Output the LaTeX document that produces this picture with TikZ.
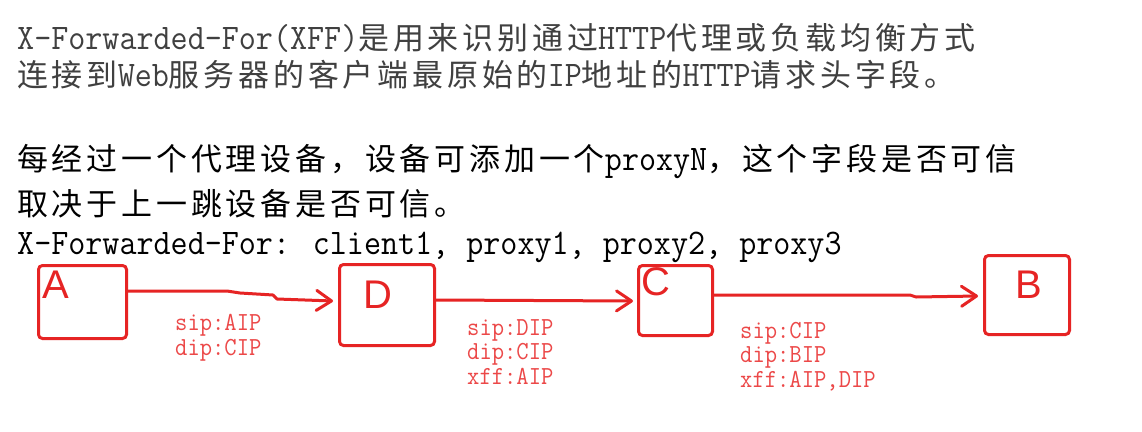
\documentclass[tikz,border=0pt]{standalone}
\usepackage{fontspec}
\setmainfont{Latin Modern Mono}[FakeStretch=0.92]
\newfontfamily\hanzi{Noto Sans CJK SC}[Scale=0.86,LetterSpace=12.4]
\newfontfamily\hand{Liberation Sans}
\usepackage{xcolor}
\usetikzlibrary{arrows.meta,calc}

\definecolor{penred}{RGB}{230,36,36}
\definecolor{notered}{RGB}{236,72,72}
\definecolor{leadgray}{RGB}{64,64,64}

\begin{document}
\begin{tikzpicture}[
  x=1pt, y=-1pt,
  >={Straight Barb[length=15pt,width=20pt,round]},
  txt/.style={anchor=base west, inner sep=0pt,
              font=\fontsize{36}{36}\selectfont},
  hop/.style={draw=penred, line width=3pt, rounded corners=4pt,
              inner sep=0pt},
  tag/.style={inner sep=0pt, text=penred,
              font=\hand\fontsize{40}{40}\selectfont},
  arr/.style={->, draw=penred, line width=3pt,
              line cap=round, line join=round},
  pkt/.style={anchor=base west, inner sep=0pt, align=left,
              text=notered, font=\fontsize{26}{24.5}\selectfont},
]
\fill[white] (0,0) rectangle (1142,431);
\useasboundingbox (0,0) rectangle (1142,431);

% ---- explanation text ----
\node[txt, text=leadgray] (def1) at (17,49) {X-Forwarded-For(XFF){\hanzi 是用来识别通过}HTTP{\hanzi 代理或负载均衡方式}};
\node[txt, text=leadgray] (def2) at (17,86) {{\hanzi 连接到}Web{\hanzi 服务器的客户端最原始的}IP{\hanzi 地址的}HTTP{\hanzi 请求头字段。}};
\node[txt] (rule1) at (17,170) {{\hanzi 每经过一个代理设备，设备可添加一个}proxyN{\hanzi ，这个字段是否可信}};
\node[txt] (rule2) at (17,215) {{\hanzi 取决于上一跳设备是否可信。}};
\node[txt] (hdr) at (17,254) {X-Forwarded-For: client1, proxy1, proxy2, proxy3};

% ---- devices ----
\node[hop, minimum width=88, minimum height=73] (A) at (82.5,302) {};
\node[hop, minimum width=95, minimum height=81] (D) at (387,305) {};
\node[hop, minimum width=74, minimum height=70] (C) at (675.5,300.5) {};
\node[hop, minimum width=85, minimum height=79] (B) at (1027,295) {};

\node[tag] (A-tag) at (56,285) {A};
\node[tag] (D-tag) at (378,295) {D};
\node[tag] (C-tag) at (656,282) {C};
\node[tag] (B-tag) at (1029,285) {B};

% ---- hops ----
\draw[arr] ($(A.east)+(0,-11)$) -- ++(99,0) -- ++(13,2) -- ++(33,2)
  -- ++(4,4) -- ($(D.west)+(-5,-4)$);
\draw[arr] ($(D.east)+(0,-5)$) -- ($(C.west)+(-4,0.5)$);
\draw[arr] ($(C.east)+(0,-5.5)$) -- ++(196,0) -- ++(6,2)
  -- ($(B.west)+(-5,1)$);

% ---- packet fields ----
\node[pkt] (hop1) at (175,355) {sip:AIP\\dip:CIP};
\node[pkt] (hop2) at (467,384) {sip:DIP\\dip:CIP\\xff:AIP};
\node[pkt] (hop3) at (740,387) {sip:CIP\\dip:BIP\\xff:AIP,DIP};

\end{tikzpicture}
\end{document}
